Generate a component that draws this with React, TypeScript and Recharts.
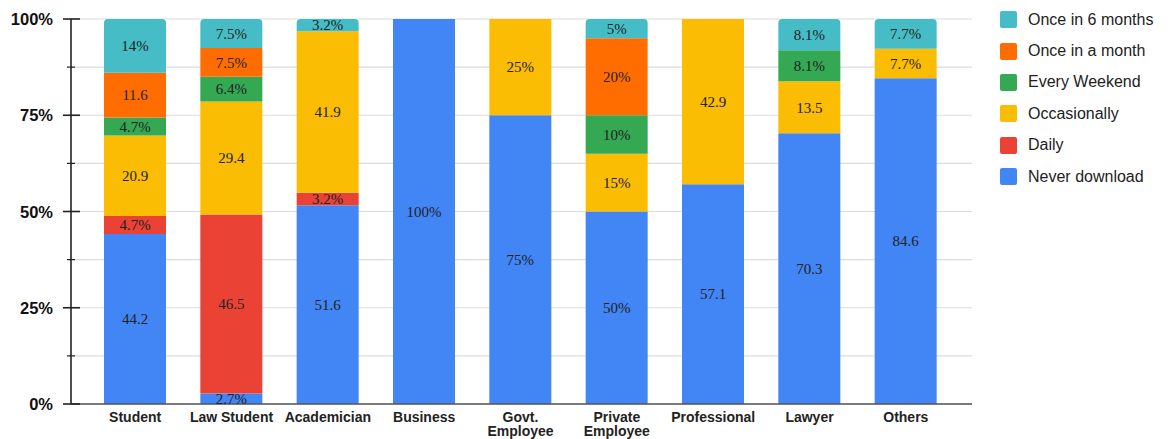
import { BarChart, Bar, XAxis, YAxis, CartesianGrid, LabelList } from "recharts";

const categories = [
  "Student",
  "Law Student",
  "Academician",
  "Business",
  "Govt. Employee",
  "Private Employee",
  "Professional",
  "Lawyer",
  "Others",
];

const never = [44.2, 2.7, 51.6, 100, 75, 50, 57.1, 70.3, 84.6];
const daily = [4.7, 46.5, 3.2, 0, 0, 0, 0, 0, 0];
const occasionally = [20.9, 29.4, 41.9, 0, 25, 15, 42.9, 13.5, 7.7];
const weekend = [4.7, 6.4, 0, 0, 0, 10, 0, 8.1, 0];
const month = [11.6, 7.5, 0, 0, 0, 20, 0, 0, 0];
const sixMonths = [14, 7.5, 3.2, 0, 0, 5, 0, 8.1, 7.7];

// label text as printed on the bars (mixed formats in the source)
const neverLabels = ["44.2", "2.7%", "51.6", "100%", "75%", "50%", "57.1", "70.3", "84.6"];
const dailyLabels = ["4.7%", "46.5", "3.2%", "", "", "", "", "", ""];
const occasionallyLabels = ["20.9", "29.4", "41.9", "", "25%", "15%", "42.9", "13.5", "7.7%"];
const weekendLabels = ["4.7%", "6.4%", "", "", "", "10%", "", "8.1%", ""];
const monthLabels = ["11.6", "7.5%", "", "", "", "20%", "", "", ""];
const sixMonthsLabels = ["14%", "7.5%", "3.2%", "", "", "5%", "", "8.1%", "7.7%"];

const yTicks = [0, 0.125, 0.25, 0.375, 0.5, 0.625, 0.75, 0.875, 1];

const series = [
  { key: "never", name: "Never download", color: "#4285F4" },
  { key: "daily", name: "Daily", color: "#EA4335" },
  { key: "occasionally", name: "Occasionally", color: "#FBBC04" },
  { key: "weekend", name: "Every Weekend", color: "#34A853" },
  { key: "month", name: "Once in a month", color: "#FF6D01" },
  { key: "sixMonths", name: "Once in 6 months", color: "#46BDC6" },
];

const data = categories.map((c, i) => ({
  category: c,
  never: never[i],
  daily: daily[i],
  occasionally: occasionally[i],
  weekend: weekend[i],
  month: month[i],
  sixMonths: sixMonths[i],
  neverLabel: neverLabels[i],
  dailyLabel: dailyLabels[i],
  occasionallyLabel: occasionallyLabels[i],
  weekendLabel: weekendLabels[i],
  monthLabel: monthLabels[i],
  sixMonthsLabel: sixMonthsLabels[i],
}));

const YTick = (props: any) => {
  const { x, y, payload } = props;
  const v = payload.value;
  const major = Math.abs((v * 100) % 25) < 0.01;
  return (
    <g>
      <line
        x1={major ? x - 8 : x - 4}
        x2={major ? x + 9 : x + 4}
        y1={y}
        y2={y}
        stroke="#222"
        strokeWidth={major ? 1.6 : 1.2}
      />
      {major && (
        <text
          x={x - 18}
          y={y}
          dy={6}
          textAnchor="end"
          fontFamily="Liberation Sans, Arial, sans-serif"
          fontWeight="bold"
          fontSize={16.5}
          fill="#111"
        >
          {Math.round(v * 100)}%
        </text>
      )}
    </g>
  );
};

const XTick = (props: any) => {
  const { x, y, payload } = props;
  const label: string = payload.value;
  const lines = label.includes("Employee") ? label.split(" ") : [label];
  return (
    <text
      x={x}
      y={y}
      textAnchor="middle"
      fontFamily="Liberation Sans, Arial, sans-serif"
      fontWeight="bold"
      fontSize={14}
      fill="#222"
    >
      {lines.map((l, i) => (
        <tspan key={i} x={x} dy={i === 0 ? 10 : 14}>
          {l}
        </tspan>
      ))}
    </text>
  );
};

const LegendBox = () => (
  <div
    style={{
      position: "absolute",
      left: 1000,
      top: 4,
      fontFamily: "Liberation Sans, Arial, sans-serif",
      fontSize: 16,
      color: "#222",
    }}
  >
    {[...series].reverse().map((s) => (
      <div key={s.key} style={{ display: "flex", alignItems: "center", height: 31.4 }}>
        <span
          style={{
            display: "inline-block",
            width: 17,
            height: 17,
            borderRadius: 2,
            background: s.color,
            marginRight: 11,
          }}
        />
        {s.name}
      </div>
    ))}
  </div>
);

export default function App() {
  return (
    <div style={{ position: "absolute", left: 0, top: 0, width: 1175, height: 439, background: "#fff" }}>
      <BarChart
        width={1175}
        height={439}
        data={data}
        stackOffset="expand"
        margin={{ top: 19, right: 203, bottom: 0, left: 0 }}
      >
        <CartesianGrid vertical={false} stroke="#dcdcdc" strokeWidth={1.2} />
        <XAxis
          dataKey="category"
          interval={0}
          height={35}
          padding={{ left: 16, right: 18 }}
          axisLine={{ stroke: "#555", strokeWidth: 1.5 }}
          tickLine={false}
          tick={<XTick />}
        />
        <YAxis
          width={71}
          domain={[0, 1]}
          ticks={yTicks}
          interval={0}
          tickSize={0}
          tickMargin={0}
          axisLine={{ stroke: "#222", strokeWidth: 1.6 }}
          tickLine={false}
          tick={<YTick />}
        />
        {series.map((s) => (
          <Bar
            key={s.key}
            dataKey={s.key}
            name={s.name}
            stackId="a"
            fill={s.color}
            barSize={62}
            radius={s.key === "sixMonths" ? [4, 4, 0, 0] : 0}
            isAnimationActive={false}
          >
            <LabelList
              dataKey={`${s.key}Label`}
              position="center"
              fontFamily="Liberation Serif, Times New Roman, serif"
              fontSize={15}
              fill="#222"
            />
          </Bar>
        ))}
      </BarChart>
      <LegendBox />
    </div>
  );
}
